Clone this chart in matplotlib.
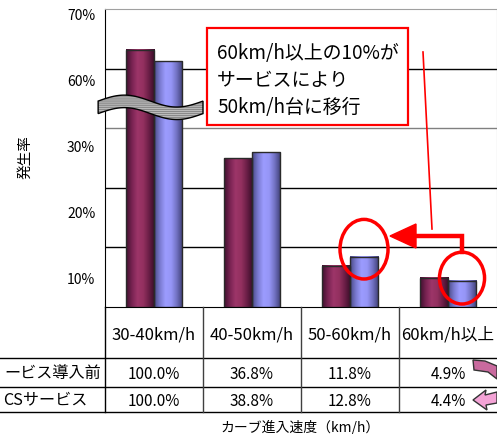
import numpy as np
import matplotlib
matplotlib.use('Agg')
import matplotlib.pyplot as plt
from matplotlib import transforms
from matplotlib.colors import LinearSegmentedColormap
from matplotlib.patches import Rectangle, Ellipse, Polygon
from matplotlib.lines import Line2D

plt.rcParams['font.family'] = ['Noto Sans CJK JP', 'DejaVu Sans']

W, H = 497, 435

# 累積割合（カーブ進入速度以上の車両の割合）
speed_cats = ['30-40km/h', '40-50km/h', '50-60km/h', '60km/h以上']
row_labels = ['ービス導入前', 'CSサービス']
before_cum = [100.0, 36.8, 11.8, 4.9]
after_cum = [100.0, 38.8, 12.8, 4.4]
ytick_vals = [10, 20, 30, 60, 70]
note_lines = ['60km/h以上の10%が', 'サービスにより', '50km/h台に移行']

def rate(cum):
    # 速度帯ごとの発生率 = 累積の差分
    return [cum[i] - cum[i + 1] for i in range(len(cum) - 1)] + [cum[-1]]

def brk(v):
    # 30%〜60%を省略した縦軸
    return v if v <= 30 else v - 20

before_rate = rate(before_cum)
after_rate = rate(after_cum)

fig = plt.figure(figsize=(W / 100, H / 100), dpi=100)
px = transforms.Affine2D().scale(1 / W, -1 / H).translate(0, 1) + fig.transFigure
ax = fig.add_axes([105 / W, 127 / H, 392 / W, 298 / H])

cm_before = LinearSegmentedColormap.from_list('mb', ['#40102f', '#782352', '#9d3569', '#93305f', '#6a1e46', '#380d28'])
cm_after = LinearSegmentedColormap.from_list('ma', ['#4a4a86', '#7a7ad0', '#9c9cff', '#9595f6', '#7070c0', '#3e3e74'])
grad = np.linspace(0, 1, 64).reshape(1, -1)

bw = 0.286
for i in range(len(speed_cats)):
    c = i + 0.5
    for x0, v, cm in [(c - bw, before_rate[i], cm_before), (c, after_rate[i], cm_after)]:
        h = brk(v)
        ax.imshow(grad, cmap=cm, extent=[x0, x0 + bw, 0, h], aspect='auto', zorder=3)
        ax.add_patch(Rectangle((x0, 0), bw, h, fill=False, ec='#2a2a2a', lw=1.0, zorder=4))

ax.set_xlim(0, 4)
ax.set_ylim(0, 50)
ax.set_xticks([])
ax.set_yticks([])
for v in ytick_vals[:-1]:
    d = brk(v)
    ax.axhline(d, color='#808080' if v == 30 else 'black', lw=1.0, zorder=1)
for v in ytick_vals:
    d = brk(v)
    off = transforms.ScaledTranslation(0, -(6 + 0.65 * (50 - d)) / 100, fig.dpi_scale_trans)
    ax.text(-0.1, d, f'{v}%', ha='right', va='center', fontsize=10,
            transform=ax.transData + off, clip_on=False)

ax.spines['left'].set_color('black')
ax.spines['bottom'].set_color('black')
ax.spines['top'].set_color('#a0a0a0')
ax.spines['right'].set_color('#a0a0a0')

# 縦軸の省略記号（波形）
xs = np.linspace(-0.07, 1.0, 80)
yc = 33.5 + 1.0 * np.sin(2 * np.pi * (xs + 0.07) / 1.07)
ribbon = np.concatenate([np.column_stack([xs, yc + 1.05]), np.column_stack([xs[::-1], yc[::-1] - 1.05])])
ax.add_patch(Polygon(ribbon, closed=True, fc='#d0d0d0', ec='#8a8a8a', lw=0, hatch='--------', zorder=6, clip_on=False))
ax.add_patch(Polygon(ribbon, closed=True, fill=False, ec='black', lw=1.0, zorder=7, clip_on=False))

# 注目箇所の丸
ax.add_patch(Ellipse((2.5 + bw / 2, brk(after_rate[2]) + 1.3), 0.49, 10, fill=False, ec='red', lw=2.5, zorder=8, clip_on=False))
ax.add_patch(Ellipse((3.5 + bw / 2, brk(after_rate[3]) + 0.45), 0.46, 8.7, fill=False, ec='red', lw=2.5, zorder=8, clip_on=False))

# 矢印
fig.add_artist(Line2D([462, 462, 413], [253, 237, 237], color='red', lw=3.2, transform=px, solid_joinstyle='miter'))
fig.add_artist(Polygon([[390, 237], [416, 225], [416, 249]], closed=True, color='red', transform=px))
fig.add_artist(Line2D([423, 432], [53, 230], color='red', lw=1.2, transform=px))

# 説明ボックス
fig.add_artist(Rectangle((207, 29), 201, 97, fc='white', ec='red', lw=1.6, transform=px, zorder=9))
for k, s in enumerate(note_lines):
    fig.text(217 / W, 1 - (54 + 26.5 * k) / H, s, fontsize=13.6, va='center', ha='left', zorder=10)

# 下の表
xb = transforms.blended_transform_factory(ax.transData, px)
for y in [359, 388, 413]:
    fig.add_artist(Line2D([0, 1], [1 - y / H, 1 - y / H], color='black', lw=1.0, transform=fig.transFigure))
for x in range(len(speed_cats)):
    fig.add_artist(Line2D([x, x], [308, 413], color='#404040' if x else 'black', lw=1.0, transform=xb))
for i, s in enumerate(speed_cats):
    fig.text(i + 0.5, 335, s, ha='center', va='center', fontsize=12, transform=xb)
    fig.text(i + 0.5, 375, f'{before_cum[i]:.1f}%', ha='center', va='center', fontsize=11, transform=xb)
    fig.text(i + 0.5, 402, f'{after_cum[i]:.1f}%', ha='center', va='center', fontsize=11, transform=xb)
for x, y, s in zip([101, 87], [373, 400], row_labels):
    fig.text(x / W, 1 - y / H, s, ha='right', va='center', fontsize=11.6)

# 右端のピンクの矢印
fig.add_artist(Polygon([[473, 361], [485, 362], [497, 367], [497, 380], [488, 373], [474, 371]],
                       closed=True, fc='#c96a9e', ec='#333333', lw=1.0, transform=px))
fig.add_artist(Polygon([[473, 401], [486, 391], [485, 396], [497, 393], [497, 404], [486, 406], [487, 411]],
                       closed=True, fc='#f4a3d6', ec='#333333', lw=1.0, transform=px))

fig.text(300 / W, 1 - 427 / H, 'カーブ進入速度（km/h）', ha='center', va='center', fontsize=10)
fig.text(25 / W, 1 - 157 / H, '発生率', ha='center', va='center', fontsize=10.5, rotation=90)

fig.savefig('out.png', dpi=100)
